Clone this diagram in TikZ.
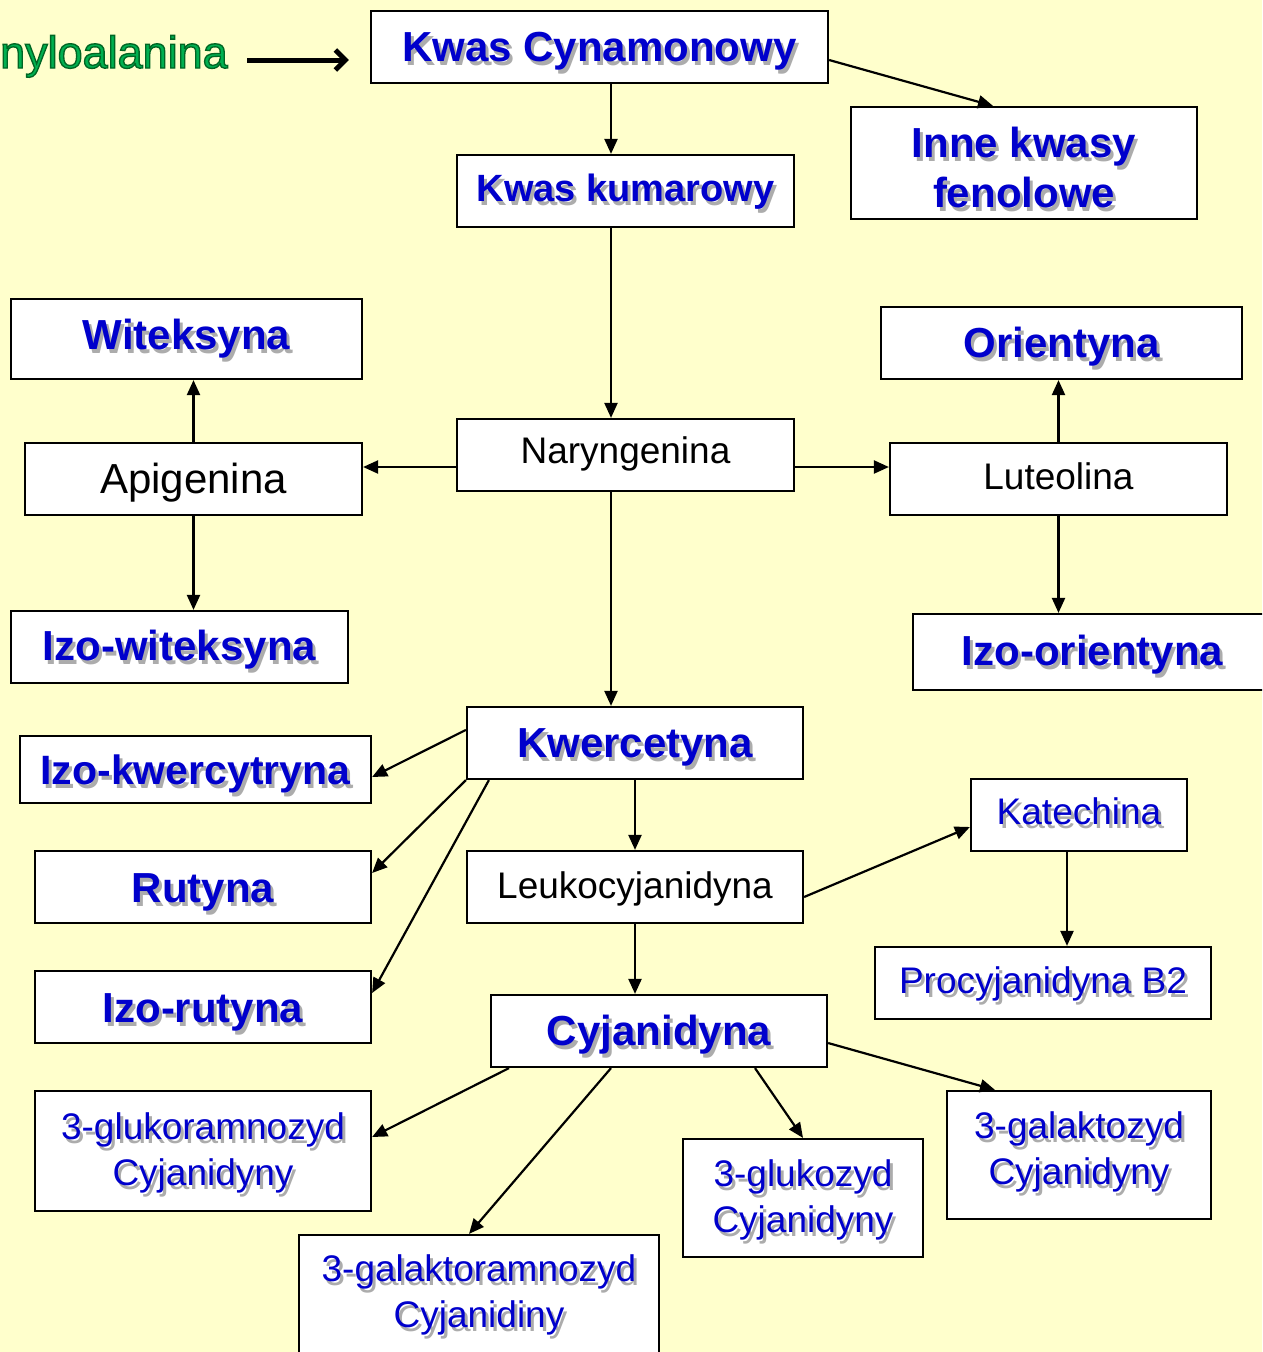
\documentclass[tikz,border=0pt]{standalone}
\usepackage{fontspec}
\setmainfont{Liberation Sans}
\newfontfamily\fenfont[RawFeature={embolden=3}]{Liberation Sans}
\usetikzlibrary{arrows.meta,calc}
\definecolor{bgy}{RGB}{255,255,204}
\definecolor{tblue}{RGB}{0,0,204}
\definecolor{shd}{RGB}{172,172,172}
\definecolor{fgreen}{RGB}{0,176,80}
\newcommand\sone[1]{\leavevmode\rlap{\kern3pt\raisebox{-4pt}{\textcolor{shd}{#1}}}#1}
\newcommand\stwo[2]{\leavevmode\rlap{\kern3pt\raisebox{-4pt}{\textcolor{shd}{\begin{tabular}[b]{@{}c@{}}#1\\#2\end{tabular}}}}\begin{tabular}[b]{@{}c@{}}#1\\#2\end{tabular}}
\tikzset{
  box/.style={draw=black, line width=2.2pt, fill=white, inner sep=0pt},
  bigf/.style={font=\fontsize{42}{50}\selectfont\bfseries, text=tblue},
  regb/.style={font=\fontsize{37}{46}\selectfont, text=tblue},
  regk/.style={font=\fontsize{37}{46}\selectfont, text=black},
  th/.style={text height=#1, text depth=5pt},
  arr/.style={-{Triangle[length=15pt,width=13pt]}, line width=2.2pt},
  fenarr/.style={-{Straight Barb[length=10pt,width=20pt]}, line width=5pt},
}
\begin{document}
\begin{tikzpicture}[x=1pt,y=-1pt]
\useasboundingbox (0,0) rectangle (1262,1352);
\clip (0,0) rectangle (1262,1352);
\fill[bgy] (0,0) rectangle (1262,1352);

% boxes
\node[box, bigf, th=33pt, minimum width=457pt, minimum height=72pt] (kc) at (599.5,47) {\sone{Kwas Cynamonowy}};
\node[box, bigf, th=94.5pt, minimum width=346pt, minimum height=112pt] (inne) at (1024,163) {\stwo{Inne kwasy}{fenolowe}};
\node[box, font=\fontsize{38}{45}\selectfont\bfseries, text=tblue, th=25.5pt, minimum width=337pt, minimum height=72pt] (kk) at (625.5,191) {\sone{Kwas kumarowy}};
\node[box, bigf, th=26pt, minimum width=351pt, minimum height=80pt] (wit) at (186.5,339) {\sone{Witeksyna}};
\node[box, bigf, th=34pt, minimum width=361pt, minimum height=72pt] (ori) at (1061.5,343) {\sone{Orientyna}};
\node[box, regk, th=21.5pt, minimum width=337pt, minimum height=72pt] (nar) at (625.5,455) {Naryngenina};
\node[box, font=\fontsize{42}{50}\selectfont, text=black, th=33pt, minimum width=337pt, minimum height=72pt] (api) at (193.5,479) {Apigenina};
\node[box, regk, th=25.5pt, minimum width=337pt, minimum height=72pt] (lut) at (1058.5,479) {Luteolina};
\node[box, bigf, th=31pt, minimum width=337pt, minimum height=72pt] (izow) at (179.5,647) {\sone{Izo-witeksyna}};
\node[box, bigf, th=32pt, minimum width=359pt, minimum height=76pt] (izoo) at (1092.5,652) {\sone{Izo-orientyna}};
\node[box, bigf, th=33pt, minimum width=336pt, minimum height=72pt] (kwer) at (635,743) {\sone{Kwercetyna}};
\node[box, font=\fontsize{41}{48}\selectfont\bfseries, text=tblue, th=34.4pt, minimum width=351pt, minimum height=67pt] (izok) at (195.5,769.5) {\sone{Izo-kwercytryna}};
\node[box, regb, th=24.5pt, minimum width=216pt, minimum height=72pt] (kat) at (1079,815) {\sone{Katechina}};
\node[box, bigf, th=35pt, minimum width=336pt, minimum height=72pt] (rut) at (203,887) {\sone{Rutyna}};
\node[box, regk, th=27.5pt, minimum width=336pt, minimum height=72pt] (leu) at (635,887) {Leukocyjanidyna};
\node[box, regb, th=25.5pt, minimum width=336pt, minimum height=72pt] (pro) at (1043,983) {\sone{Procyjanidyna B2}};
\node[box, bigf, th=35pt, minimum width=336pt, minimum height=72pt] (izor) at (203,1007) {\sone{Izo-rutyna}};
\node[box, bigf, th=33pt, minimum width=336pt, minimum height=72pt] (cyj) at (659,1031) {\sone{Cyjanidyna}};
\node[box, regb, th=73.5pt, minimum width=336pt, minimum height=120pt] (glr) at (203,1151) {\stwo{3-glukoramnozyd}{Cyjanidyny}};
\node[box, regb, th=63.5pt, minimum width=264pt, minimum height=128pt] (gal) at (1079,1155) {\stwo{3-galaktozyd}{Cyjanidyny}};
\node[box, regb, th=73.5pt, minimum width=240pt, minimum height=118pt] (glu) at (803,1198) {\stwo{3-glukozyd}{Cyjanidyny}};
\node[box, regb, th=67.5pt, minimum width=360pt, minimum height=122pt] (glr2) at (479,1296) {\stwo{3-galaktoramnozyd}{Cyjanidiny}};

% green source text
\node[font={\fenfont\fontsize{45}{54}\selectfont}, text=fgreen, anchor=base east, inner sep=0pt] (fen) at (228,68) {\special{pdf:literal direct 0 0.40 0.14 RG}nyloalanina};

% connectors
\draw[fenarr] ($(fen.base east)+(19,-8)$) -- ($(kc.west)+(-21,13)$);
\draw[arr] ($(kc.south)+(11.5,0)$) -- ($(kk.north)+(-14.5,0)$);
\draw[arr] ($(kc.east)+(0,13)$) -- ($(inne.north)+(-31,0)$);
\draw[arr] ($(kk.south)+(-14.5,0)$) -- ($(nar.north)+(-14.5,0)$);
\draw[arr] ($(nar.west)+(0,12)$) -- ($(api.east)+(0,-12)$);
\draw[arr] ($(nar.east)+(0,12)$) -- ($(lut.west)+(0,-12)$);
\draw[arr] (api.north) -- (api.north |- wit.south);
\draw[arr] (api.south) -- (api.south |- izow.north);
\draw[arr] (lut.north) -- (lut.north |- ori.south);
\draw[arr] (lut.south) -- (lut.south |- izoo.north);
\draw[arr] ($(nar.south)+(-14.5,0)$) -- ($(kwer.north)+(-24,0)$);
\draw[arr] ($(kwer.north west)+(0,24)$) -- ($(izok.east)+(0,7.5)$);
\draw[arr] (kwer.south west) -- ($(rut.east)+(0,-14)$);
\draw[arr] ($(kwer.south west)+(23,0)$) -- ($(izor.east)+(0,-14)$);
\draw[arr] (kwer.south) -- (leu.north);
\draw[arr] ($(leu.east)+(0,10)$) -- ($(kat.west)+(0,12)$);
\draw[arr] ($(kat.south)+(-12,0)$) -- ($(pro.north)+(24,0)$);
\draw[arr] (leu.south) -- (leu.south |- cyj.north);
\draw[arr] ($(cyj.east)+(0,12)$) -- ($(gal.north)+(-84,0)$);
\draw[arr] ($(cyj.south)+(96,0)$) -- (glu.north);
\draw[arr] ($(cyj.south)+(-48,0)$) -- ($(glr2.north)+(-10,0)$);
\draw[arr] ($(cyj.south)+(-150,0)$) -- ($(glr.east)+(0,-14)$);
\end{tikzpicture}
\end{document}
